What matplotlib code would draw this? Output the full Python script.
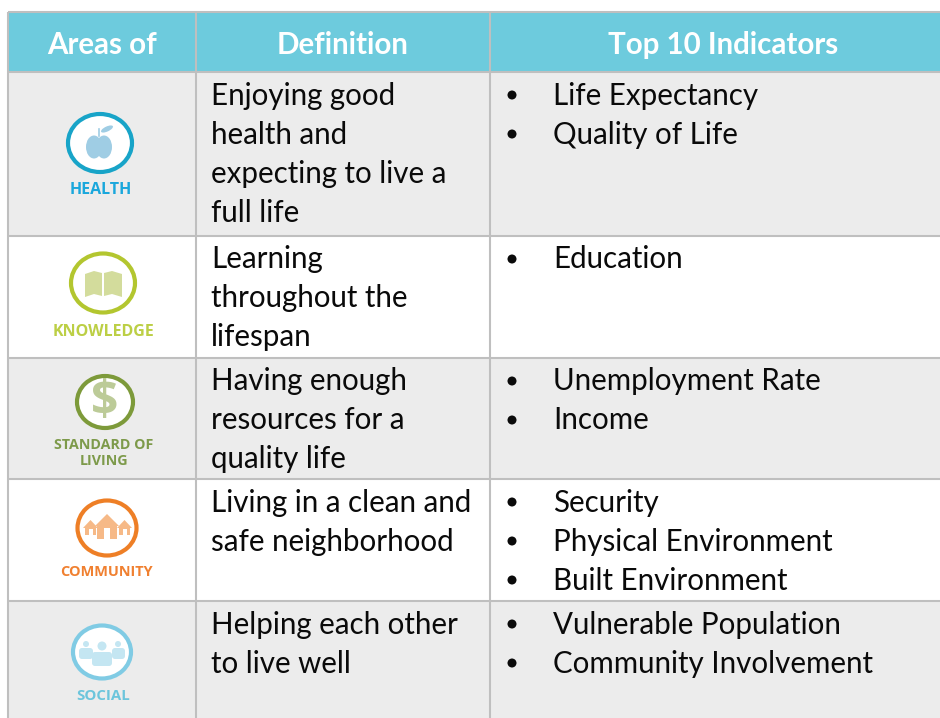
import matplotlib
matplotlib.use("Agg")
import matplotlib.pyplot as plt
from matplotlib.patches import Ellipse, Polygon, Rectangle, FancyBboxPatch

plt.rcParams['font.family'] = ['Lato', 'DejaVu Sans']

headers = ["Areas of", "Definition", "Top 10 Indicators"]
areas = ["HEALTH", "KNOWLEDGE", "STANDARD OF\nLIVING", "COMMUNITY", "SOCIAL"]
definitions = [
    ["Enjoying good", "health and", "expecting to live a", "full life"],
    ["Learning", "throughout the", "lifespan"],
    ["Having enough", "resources for a", "quality life"],
    ["Living in a clean and", "safe neighborhood"],
    ["Helping each other", "to live well"],
]
indicators = [
    ["Life Expectancy", "Quality of Life"],
    ["Education"],
    ["Unemployment Rate", "Income"],
    ["Security", "Physical Environment", "Built Environment"],
    ["Vulnerable Population", "Community Involvement"],
]

col_edges = [8, 196, 490, 945]
row_edges = [12, 72, 236, 358, 479, 601, 725]
row_fill = ["#ececec", "#ffffff", "#ececec", "#ffffff", "#ececec"]
text_offset = [33, 32.4, 32.4, 33, 33]

ring_col = ["#18a4c8", "#b3c62f", "#7d9a3a", "#ee7f26", "#80cbe4"]
icon_col = ["#9fcde4", "#d3dc9c", "#bccb98", "#f6b987", "#c4e6f2"]
label_col = ["#1aa7dc", "#bccf45", "#7d9a4a", "#f08030", "#6cc5dc"]
ring_xy = [(100, 143), (103, 283), (105, 402), (107, 528), (102, 652)]
ring_w = [64, 64, 56, 59, 58]
ring_h = [58, 59, 52, 55, 53]
label_y = [190, 332, 453, 572, 696]
label_x = [101, 103, 104, 106, 103]
label_px = [16, 16, 14.3, 14.5, 15]

fig = plt.figure(figsize=(9.4, 7.18), dpi=100)
ax = fig.add_axes([0, 0, 1, 1])
ax.set_xlim(0, 940)
ax.set_ylim(718, 0)
ax.axis('off')

grid = "#bfbfbf"
PX = 0.72

# header + row backgrounds
ax.add_patch(Rectangle((col_edges[0], row_edges[0]), col_edges[3] - col_edges[0],
                       row_edges[1] - row_edges[0], fc="#6dcbdd", ec='none'))
for i, c in enumerate(row_fill):
    ax.add_patch(Rectangle((col_edges[0], row_edges[i + 1]), col_edges[3] - col_edges[0],
                           row_edges[i + 2] - row_edges[i + 1], fc=c, ec='none'))
for y in row_edges[:-1]:
    ax.plot([col_edges[0], 940], [y, y], color=grid, lw=1.5, solid_capstyle='butt')
for x in col_edges[:-1]:
    ax.plot([x, x], [row_edges[0], 718], color=grid, lw=1.5, solid_capstyle='butt')

# header text
header_x = [102, 343, 723]
for x, h in zip(header_x, headers):
    ax.text(x, 45, h, color='white', fontsize=29.5 * PX, fontweight='bold', ha='center', va='center')

# definitions and bullets
for i in range(5):
    top = row_edges[i + 1]
    for j, line in enumerate(definitions[i]):
        ax.text(211, top + text_offset[i] + j * 39, line, fontsize=29.5 * PX, color="#0a0a0a",
                ha='left', va='baseline')
    for j, line in enumerate(indicators[i]):
        ax.text(553, top + text_offset[i] + j * 39, line, fontsize=29.5 * PX, color="#0a0a0a",
                ha='left', va='baseline')
        ax.add_patch(Ellipse((512, top + 23 + j * 39), 9, 9, fc="#0a0a0a", ec='none'))

# icon rings
for i in range(5):
    ax.add_patch(Ellipse(ring_xy[i], ring_w[i], ring_h[i], fc='white', ec=ring_col[i], lw=3.0))
    ax.text(label_x[i], label_y[i], areas[i], color=label_col[i], fontsize=label_px[i] * PX,
            family='Open Sans', fontweight='bold', ha='center', va='center', linespacing=1.2)

# apple
ax.add_patch(Ellipse((94, 147), 16, 23, fc=icon_col[0], ec='none'))
ax.add_patch(Ellipse((104, 147), 16, 23, fc=icon_col[0], ec='none'))
ax.plot([99, 99], [136, 129], color=icon_col[0], lw=1.2)
ax.add_patch(Ellipse((107, 129), 13, 5, angle=-25, fc=icon_col[0], ec='none'))

# book
ax.add_patch(Polygon([(85, 274), (94, 271), (102, 273), (102, 296), (94, 294), (85, 297)],
                     fc=icon_col[1], ec='none'))
ax.add_patch(Polygon([(104, 273), (112, 271), (122, 274), (122, 297), (112, 294), (104, 296)],
                     fc=icon_col[1], ec='none'))

# dollar sign
ax.text(105, 403, "$", color=icon_col[2], fontsize=48 * PX, family='Open Sans', fontweight='bold',
        ha='center', va='center')

# houses: left edge, right edge, roof top, eave, base
for x0, x1, roof, eave, base in [(83, 98, 520, 528, 535), (117, 132, 520, 528, 535),
                                 (95, 119, 514, 526, 539)]:
    ax.add_patch(Polygon([(x0, eave), ((x0 + x1) / 2, roof), (x1, eave), (x1 - 2, eave),
                          (x1 - 2, base), (x0 + 2, base), (x0 + 2, eave)],
                         fc=icon_col[3], ec='none'))
ax.add_patch(Rectangle((104, 528), 6, 11, fc='white', ec='none'))
ax.add_patch(Rectangle((89, 529), 3.5, 6, fc='white', ec='none'))
ax.add_patch(Rectangle((123, 529), 3.5, 6, fc='white', ec='none'))

# people: head x, head y, head size, body left, body right, body top, body bottom
for hx, hy, hr, x0, x1, y0, y1 in [(86, 644, 6, 79, 93, 648, 656), (118, 644, 6, 112, 125, 648, 656),
                                   (102, 646, 9, 92, 112, 652, 663)]:
    ax.add_patch(Ellipse((hx, hy), hr, hr, fc=icon_col[4], ec='none'))
    ax.add_patch(FancyBboxPatch((x0 + 3, y0 + 3), x1 - x0 - 6, y1 - y0 - 3,
                                boxstyle="round,pad=3,rounding_size=3", fc=icon_col[4], ec='none'))

fig.savefig("out.png", dpi=100)
